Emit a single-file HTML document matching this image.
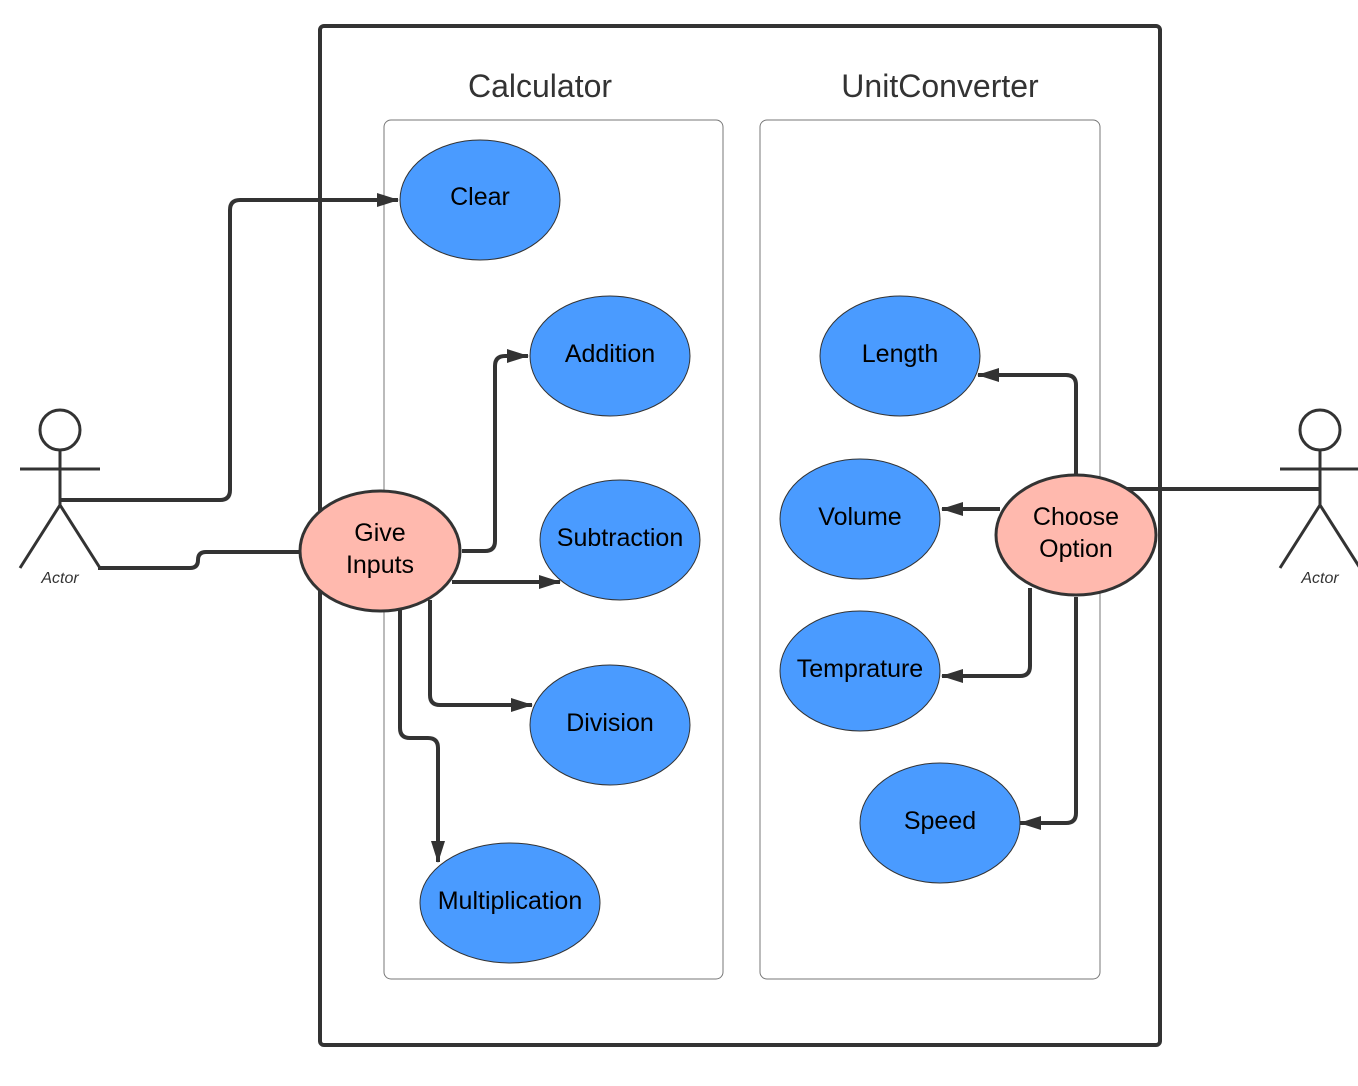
<!DOCTYPE html>
<html><head><meta charset="utf-8"><style>
html,body{margin:0;padding:0;background:#fff;}
svg{display:block;}
text{font-family:"Liberation Sans",sans-serif;}
</style></head><body>
<svg width="1358" height="1086" viewBox="0 0 1358 1086" xmlns="http://www.w3.org/2000/svg">
<defs>
<marker id="a" markerWidth="22" markerHeight="14" refX="21" refY="7" orient="auto" markerUnits="userSpaceOnUse">
<path d="M0,0 L22,7 L0,14 Z" fill="#333"/></marker>
</defs>
<rect x="320" y="26" width="840" height="1019" rx="4" fill="none" stroke="#333" stroke-width="4"/>
<rect x="384" y="120" width="339" height="859" rx="7" fill="none" stroke="#777" stroke-width="1"/>
<rect x="760" y="120" width="340" height="859" rx="7" fill="none" stroke="#777" stroke-width="1"/>
<text x="540" y="97" font-size="32" text-anchor="middle" fill="#333">Calculator</text>
<text x="940" y="97" font-size="32" text-anchor="middle" fill="#333">UnitConverter</text>

<g fill="none" stroke="#333" stroke-width="4">
<path d="M60,500 H220 Q230,500 230,490 V210 Q230,200 240,200 H398" marker-end="url(#a)"/>
<path d="M98,568 H190 Q198,568 198,560 Q198,552 206,552 H300"/>
<path d="M462,551 H485 Q495,551 495,541 V366 Q495,356 505,356 H528" marker-end="url(#a)"/>
<path d="M452,582 H560" marker-end="url(#a)"/>
<path d="M430,600 V695 Q430,705 440,705 H532" marker-end="url(#a)"/>
<path d="M400,610 V728 Q400,738 410,738 H428 Q438,738 438,748 V862" marker-end="url(#a)"/>
<path d="M1076,475 V385 Q1076,375 1066,375 H978" marker-end="url(#a)"/>
<path d="M1000,509 H942" marker-end="url(#a)"/>
<path d="M1030,588 V666 Q1030,676 1020,676 H942" marker-end="url(#a)"/>
<path d="M1076,597 V813 Q1076,823 1066,823 H1020" marker-end="url(#a)"/>
<path d="M1126,489 H1320"/>
</g>

<g fill="#4a9bff" stroke="#333" stroke-width="1">
<ellipse cx="480" cy="200" rx="80" ry="60"/>
<ellipse cx="610" cy="356" rx="80" ry="60"/>
<ellipse cx="620" cy="540" rx="80" ry="60"/>
<ellipse cx="610" cy="725" rx="80" ry="60"/>
<ellipse cx="510" cy="903" rx="90" ry="60"/>
<ellipse cx="900" cy="356" rx="80" ry="60"/>
<ellipse cx="860" cy="519" rx="80" ry="60"/>
<ellipse cx="860" cy="671" rx="80" ry="60"/>
<ellipse cx="940" cy="823" rx="80" ry="60"/>
</g>
<g fill="#ffb9ae" stroke="#333" stroke-width="3">
<ellipse cx="380" cy="551" rx="80" ry="60"/>
<ellipse cx="1076" cy="535" rx="80" ry="60"/>
</g>
<g font-size="25" text-anchor="middle" fill="#000">
<text x="480" y="205">Clear</text>
<text x="610" y="362">Addition</text>
<text x="620" y="546">Subtraction</text>
<text x="610" y="731">Division</text>
<text x="510" y="909">Multiplication</text>
<text x="900" y="362">Length</text>
<text x="860" y="525">Volume</text>
<text x="860" y="677">Temprature</text>
<text x="940" y="829">Speed</text>
<text x="380" y="541">Give</text>
<text x="380" y="573">Inputs</text>
<text x="1076" y="525">Choose</text>
<text x="1076" y="557">Option</text>
</g>

<g fill="none" stroke="#333" stroke-width="3">
<circle cx="60" cy="430" r="20"/>
<path d="M60,450 V505 M20,469 H100 M60,505 L20,568 M60,505 L100,568"/>
<circle cx="1320" cy="430" r="20"/>
<path d="M1320,450 V505 M1280,469 H1360 M1320,505 L1280,568 M1320,505 L1360,568"/>
</g>
<text x="60" y="583" font-size="16" font-style="italic" text-anchor="middle" fill="#333">Actor</text>
<text x="1320" y="583" font-size="16" font-style="italic" text-anchor="middle" fill="#333">Actor</text>
</svg>
</body></html>
